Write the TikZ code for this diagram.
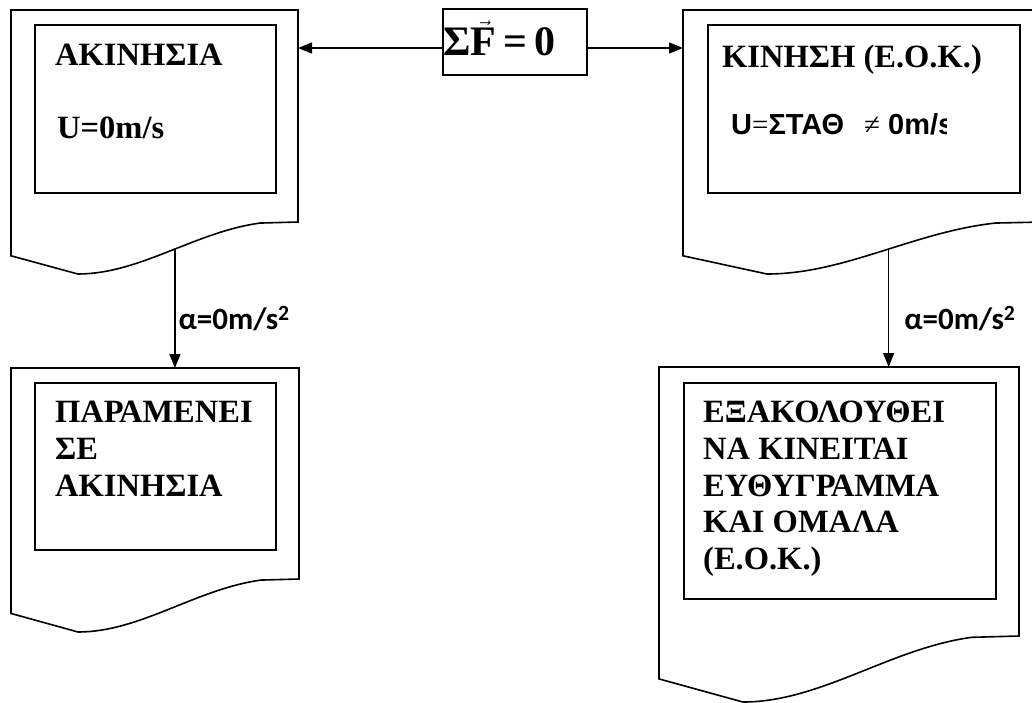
\documentclass[tikz,border=0pt]{standalone}
\usepackage{amsmath}
\usepackage{fontspec}
\setmainfont{Liberation Serif}
\setsansfont{Liberation Sans}
\newfontfamily\calibrifont{Carlito}
\usetikzlibrary{arrows.meta, positioning, calc}

\tikzset{
  docline/.style={draw=black, line width=1.6pt, line join=miter},
  inbox/.style={draw=black, line width=1.6pt, anchor=north west, inner sep=0pt},
  bigtxt/.style={font=\fontsize{32.5}{36.7}\selectfont\bfseries, inner sep=0pt, align=left},
  acclbl/.style={font=\calibrifont\fontsize{31}{33}\selectfont\bfseries, inner sep=0pt, anchor=base west},
  arr/.style={-{Triangle[length=14pt, width=11pt]}, line width=1.3pt},
}

% document outline: name, left x, top y, width, right height, wave depth
\newcommand{\docshape}[6]{%
  \pgfmathsetmacro\dR{#2+#4}%
  \pgfmathsetmacro\dB{#3+#5}%
  \draw[docline] (#2,#3) coordinate (#1-nw) -- (\dR,#3) coordinate (#1-ne)
    -- (\dR,\dB) coordinate (#1-se)
    -- ({#2+0.868*#4},{\dB+0.02*#6})
    .. controls ({#2+0.641*#4},{\dB+0.19*#6}) and ({#2+0.449*#4},{\dB+#6})
    .. ({#2+0.233*#4},{\dB+#6}) coordinate[pos=0.46] (#1-s)
    -- (#2,{\dB+0.65*#6}) -- cycle;
}

\begin{document}
\begin{tikzpicture}[x=1pt, y=-1pt]
  \useasboundingbox (0,0) rectangle (1032,702);
  \clip (0,0) rectangle (1032,702);

  %% Documents
  \docshape{restdoc}{11}{10}{287}{212}{52}
  \docshape{movedoc}{683}{10}{360}{212}{52}
  \docshape{staydoc}{11}{368}{288}{211}{53}
  \docshape{keepdoc}{659}{367}{360}{269}{66}

  %% Sum of forces
  \node[draw, line width=1.6pt, minimum width=144, minimum height=66, inner sep=0pt,
        text width=144, align=left, text height=38, text depth=12,
        font=\fontsize{42}{46}\selectfont\bfseries] (sf) at (515,42) {Σ$\vec{\text{F}}$\,=\,0};
  \coordinate (sfl) at ([yshift=-6pt]sf.west);
  \coordinate (sfr) at ([yshift=-6pt]sf.east);
  \draw[arr] (sfl) -- (sfl -| restdoc-ne);
  \draw[arr] (sfr) -- (sfr -| movedoc-nw);

  %% Rest
  \node[inbox, minimum width=241, minimum height=168] (rest) at (34,24) {};
  \node[bigtxt, anchor=base west] (restttl) at (55,65) {ΑΚΙΝΗΣΙΑ};
  \node[bigtxt, anchor=base west] (restu) at (57,138) {U=0m/s};

  %% Motion
  \node[inbox, minimum width=312, minimum height=168] (move) at (707,24) {};
  \node[bigtxt, anchor=base west] (movettl) at (722,67) {ΚΙΝΗΣΗ (Ε.Ο.Κ.)};
  \begin{scope}
    \clip (707,100) rectangle (946,180);
    \node[anchor=base west, inner sep=0pt, font=\sffamily\fontsize{29}{31}\selectfont\bfseries] (moveu) at (731,134)
      {U{\rmfamily\mdseries=}ΣΤΑΘ\hspace{20pt}{\rmfamily\mdseries ≠} 0m/s};
  \end{scope}

  %% Stays at rest
  \node[inbox, minimum width=241, minimum height=167] (stay) at (34,382) {};
  \node[bigtxt, anchor=north west] (staytxt) at (55,401) {ΠΑΡΑΜΕΝΕΙ\\ΣΕ\\ΑΚΙΝΗΣΙΑ};

  %% Keeps moving
  \node[inbox, minimum width=312, minimum height=216] (keep) at (683,382) {};
  \node[bigtxt, anchor=north west] (keeptxt) at (703,401) {ΕΞΑΚΟΛΟΥΘΕΙ\\ΝΑ ΚΙΝΕΙΤΑΙ\\ΕΥΘΥΓΡΑΜΜΑ\\ΚΑΙ ΟΜΑΛΑ\\(Ε.Ο.Κ.)};

  %% Acceleration arrows
  \draw[arr] (restdoc-s) -- (restdoc-s |- staydoc-nw) node[acclbl, pos=0.68, xshift=3pt] {α=0m/s\textsuperscript{2}};
  \draw[arr] (movedoc-s) -- (movedoc-s |- keepdoc-nw) node[acclbl, pos=0.68, xshift=15pt] {α=0m/s\textsuperscript{2}};

\end{tikzpicture}
\end{document}
